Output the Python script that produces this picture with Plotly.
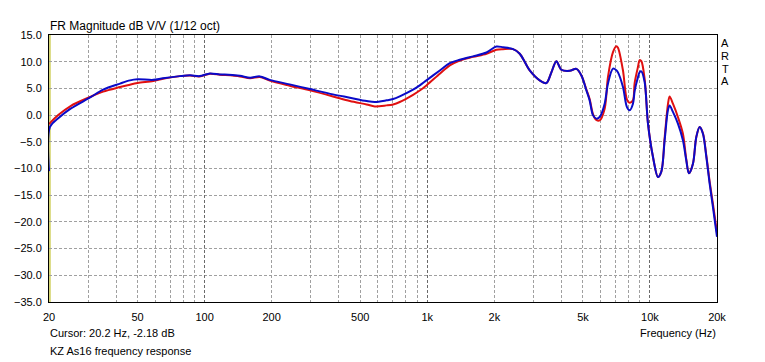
import math
import plotly.graph_objects as go

# ---- data ----
freq_hz = [20.0, 20.2, 22, 25, 30.6, 35, 41.7, 46.2, 50, 58.8, 65, 77.4, 86, 95, 105.6, 117,
           123, 144, 160, 177, 196, 241, 297, 377, 449, 534, 581, 656, 702, 752, 863, 925,
           991, 1138, 1262, 1399, 1605, 1844, 2043, 2188, 2427, 2601, 2884, 3196, 3426,
           3608, 3800, 4001, 4360, 4673, 4921, 5181, 5359, 5546, 5742, 5943, 6259, 6475,
           6822, 7064, 7182, 7564, 7882, 8106, 8388, 8533, 8831, 8988, 9146, 9464, 9795,
           10312, 10861, 11246, 11641, 12040, 12252, 12680, 13352, 14061, 14560, 14962,
           15596, 16146, 16713, 17293, 17908, 18530, 19172, 20000]

blue_db = [-10.5, -2.2, -0.6, 1.2, 3.3, 4.76, 5.9, 6.5, 6.7, 6.6, 6.9, 7.3, 7.45, 7.3, 7.8, 7.6,
           7.6, 7.35, 7.0, 7.25, 6.6, 5.75, 4.87, 3.88, 3.26, 2.63, 2.45, 2.76, 3.0, 3.5, 4.75, 5.56,
           6.5, 8.36, 9.73, 10.36, 11.0, 11.73, 12.85, 12.7, 12.35, 11.5, 8.36, 6.5, 6.0,
           8.0, 10.1, 8.5, 8.3, 8.65, 7.43, 4.63, 2.76, 0.0, -0.66, -0.36, 2.14, 5.88,
           8.7, 8.4, 8.0, 5.25, 1.5, 0.9, 2.14, 4.5, 7.1, 8.05, 8.2, 6.2, -1.6,
           -7.8, -11.6, -10.6, -4.7, 0.9, 1.8, 0.6, -1.6, -4.7, -8.5, -10.9,
           -9.1, -4.1, -2.24, -3.5, -7.8, -12.8, -17.2, -22.8]

red_db = [-1.7, -1.5, 0.0, 1.7, 3.4, 4.4, 5.25, 5.7, 6.0, 6.4, 6.8, 7.3, 7.4, 7.25, 7.75, 7.55,
          7.5, 7.25, 6.9, 7.15, 6.45, 5.5, 4.63, 3.5, 2.63, 2.0, 1.63, 1.82, 2.0, 2.45, 3.8, 4.6,
          5.56, 7.74, 9.3, 10.23, 10.9, 11.5, 12.23, 12.35, 12.35, 11.5, 8.36, 6.5, 6.0,
          8.0, 10.1, 8.5, 8.3, 8.65, 7.43, 4.8, 3.0, 0.2, -0.9, -1.0, 1.2, 7.1,
          11.8, 12.9, 12.6, 8.36, 2.9, 2.3, 2.8, 6.0, 9.0, 10.3, 10.1, 6.8, -1.5,
          -7.8, -11.6, -10.6, -4.2, 2.0, 3.5, 2.14, -0.36, -3.5, -8.3, -10.9,
          -9.1, -4.1, -2.24, -3.4, -7.6, -12.4, -16.6, -22.0]

x_tick_vals = [20, 50, 100, 200, 500, 1000, 2000, 5000, 10000, 20000]
x_tick_text = ["20", "50", "100", "200", "500", "1k", "2k", "5k", "10k", "20k"]
x_minor_grid = [30, 40, 50, 60, 70, 80, 90, 200, 300, 400, 500, 600, 700, 800, 900,
                2000, 3000, 4000, 5000, 6000, 7000, 8000, 9000]
x_major_grid = [100, 1000, 10000]
y_tick_vals = [15, 10, 5, 0, -5, -10, -15, -20, -25, -30, -35]

title_text = "FR Magnitude dB V/V (1/12 oct)"
cursor_text = "Cursor: 20.2 Hz, -2.18 dB"
caption_text = "KZ As16 frequency response"
x_title = "Frequency (Hz)"
side_letters = ["A", "R", "T", "A"]
cursor_freq = 20.2

# ---- layout geometry (pixels) ----
W, H = 765, 362
L, R, T, B = 49, 717.3, 34.5, 302
FONT = "Liberation Sans, Arial, sans-serif"


def py(p):
    return (B - p) / (B - T)


def px(p):
    return (p - L) / (R - L)


fig = go.Figure()
fig.add_trace(go.Scatter(x=freq_hz, y=red_db, mode="lines",
                         line=dict(color="#e01010", width=2, shape="spline", smoothing=0.9),
                         hoverinfo="skip"))
fig.add_trace(go.Scatter(x=freq_hz, y=blue_db, mode="lines",
                         line=dict(color="#0a0ac8", width=2, shape="spline", smoothing=0.9),
                         hoverinfo="skip"))
# invisible trace on the second x-axis for decade grid
fig.add_trace(go.Scatter(x=[20, 20000], y=[0, 0], xaxis="x2", mode="lines",
                         line=dict(width=0), opacity=0, hoverinfo="skip"))

xr = [math.log10(20), math.log10(20000)]

fig.update_layout(
    width=W, height=H,
    margin=dict(l=L, r=W - R, t=T, b=H - B, pad=0),
    paper_bgcolor="white", plot_bgcolor="white",
    showlegend=False,
    font=dict(family=FONT, size=11, color="black"),
    xaxis=dict(type="log", range=xr, tickvals=x_tick_vals, ticktext=x_tick_text,
               showgrid=False, zeroline=False, showline=True, linecolor="black",
               linewidth=1, mirror=True, ticks="", ticklabelstandoff=5,
               tickfont=dict(size=11), automargin=False,
               minor=dict(tickvals=x_minor_grid, showgrid=True, gridcolor="#a0a0a0",
                          griddash="3px,2px", gridwidth=1, ticks="")),
    xaxis2=dict(type="log", range=xr, overlaying="x", tickvals=x_major_grid,
                showticklabels=False, showgrid=True, gridcolor="#6a6a6a",
                griddash="3px,2px", gridwidth=1, zeroline=False, showline=False, ticks=""),
    yaxis=dict(range=[-35, 15], tickvals=y_tick_vals, tickformat=".1f",
               showgrid=True, gridcolor="#a0a0a0", griddash="3px,2px", gridwidth=1,
               zeroline=False, showline=True, linecolor="black", linewidth=1,
               mirror=True, ticks="", ticklabelstandoff=4, tickfont=dict(size=11),
               automargin=False),
)

# cursor line (olive-yellow) at the left edge
fig.add_shape(type="line", xref="x", yref="paper", x0=cursor_freq, x1=cursor_freq,
              y0=0, y1=1, line=dict(color="#b4b400", width=1), layer="below")

ann = []
ann.append(dict(text=title_text, x=0, y=py(25), xref="paper", yref="paper",
                xanchor="left", yanchor="middle", showarrow=False,
                font=dict(size=12, family=FONT), xshift=-1))
ann.append(dict(text=cursor_text, x=0, y=py(333), xref="paper", yref="paper",
                xanchor="left", yanchor="middle", showarrow=False,
                font=dict(size=11, family=FONT), xshift=-1))
ann.append(dict(text=caption_text, x=0, y=py(351), xref="paper", yref="paper",
                xanchor="left", yanchor="middle", showarrow=False,
                font=dict(size=11, family=FONT), xshift=-1))
ann.append(dict(text=x_title, x=1, y=py(333), xref="paper", yref="paper",
                xanchor="right", yanchor="middle", showarrow=False,
                font=dict(size=11, family=FONT), xshift=1))
for i, ch in enumerate(side_letters):
    ann.append(dict(text=ch, x=px(725.5), y=py(42.5 + i * 12.8), xref="paper", yref="paper",
                    xanchor="center", yanchor="middle", showarrow=False,
                    font=dict(size=11, family=FONT)))
fig.update_layout(annotations=ann)

fig.write_html("out.html", config={"displayModeBar": False},
               post_script="document.body.style.margin='0';document.body.style.overflow='hidden';")
